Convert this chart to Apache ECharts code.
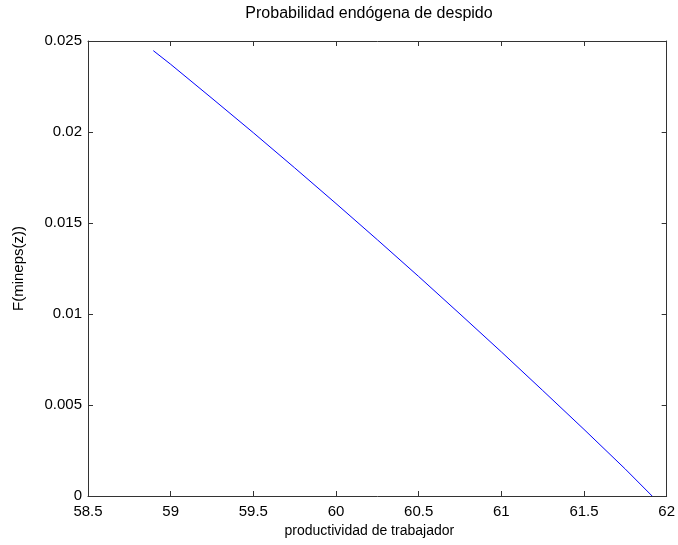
<!DOCTYPE html>
<html>
<head>
<meta charset="utf-8">
<script src="https://cdn.jsdelivr.net/npm/echarts@6/dist/echarts.min.js"></script>
<style>
  html, body { margin: 0; padding: 0; background: #ffffff; }
  #chart { width: 678px; height: 545px; }
</style>
</head>
<body>
<div id="chart"></div>
<script>
// Worker productivity (z) and the endogenous separation probability F(mineps(z))
const productivity = [58.895, 59.0, 59.25, 59.5, 59.75, 60.0, 60.25, 60.5, 60.75, 61.0, 61.25, 61.5, 61.75, 61.912];
const separationProb = [0.02447, 0.02372, 0.02185, 0.01996, 0.01803, 0.01607, 0.01408, 0.01206, 0.01000, 0.00792, 0.00580, 0.00366, 0.00148, 0.0];

const xTicks = { min: 58.5, max: 62, interval: 0.5 };
const yTicks = { min: 0, max: 0.025, interval: 0.005 };

const titleText = 'Probabilidad endógena de despido';
const xLabel = 'productividad de trabajador';
const yLabel = 'F(mineps(z))';

const font = 'Liberation Sans, Arial, sans-serif';
const axisColor = '#333333';

function frameAxis(extra) {
  return Object.assign({
    type: 'value',
    axisLine: { show: true, onZero: false, lineStyle: { color: axisColor, width: 1 } },
    axisTick: { show: true, inside: true, length: 5, lineStyle: { color: axisColor } },
    splitLine: { show: false }
  }, extra);
}

const chart = echarts.init(document.getElementById('chart'), null, { renderer: 'canvas' });
chart.setOption({
  backgroundColor: '#ffffff',
  animation: false,
  title: {
    text: titleText,
    left: 364, top: 1, textAlign: 'center',
    textStyle: { fontFamily: font, fontSize: 16, fontWeight: 'normal', color: '#000' }
  },
  grid: { left: 88, top: 41, width: 579, height: 455, containLabel: false },
  xAxis: [
    frameAxis({
      position: 'bottom', min: xTicks.min, max: xTicks.max, interval: xTicks.interval,
      axisLabel: { show: true, margin: 8, color: '#000', fontFamily: font, fontSize: 15 },
      name: xLabel, nameLocation: 'middle', nameGap: 28,
      nameTextStyle: { color: '#000', fontFamily: font, fontSize: 14, padding: [0, 16, 0, 0] }
    }),
    frameAxis({
      position: 'top', min: xTicks.min, max: xTicks.max, interval: xTicks.interval,
      axisLabel: { show: false }
    })
  ],
  yAxis: [
    frameAxis({
      position: 'left', min: yTicks.min, max: yTicks.max, interval: yTicks.interval,
      axisLabel: { show: true, margin: 6, color: '#000', fontFamily: font, fontSize: 15 },
      name: yLabel, nameLocation: 'middle', nameGap: 62, nameRotate: 90,
      nameTextStyle: { color: '#000', fontFamily: font, fontSize: 15 }
    }),
    frameAxis({
      position: 'right', min: yTicks.min, max: yTicks.max, interval: yTicks.interval,
      axisLabel: { show: false }
    })
  ],
  series: [{
    type: 'line',
    xAxisIndex: 0, yAxisIndex: 0,
    data: productivity.map((x, i) => [x, separationProb[i]]),
    showSymbol: false,
    lineStyle: { color: '#0000ff', width: 1 },
    itemStyle: { color: '#0000ff' }
  }]
});
</script>
</body>
</html>
